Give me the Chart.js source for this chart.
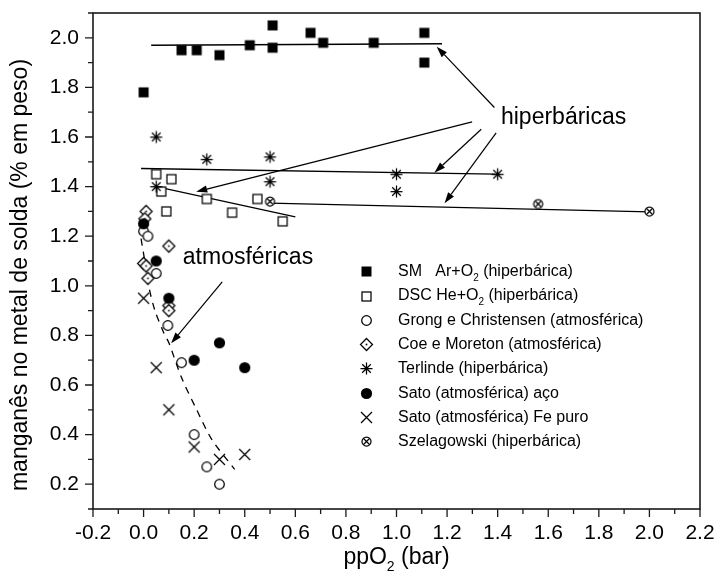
<!DOCTYPE html>
<html>
<head>
<meta charset="utf-8">
<script src="https://cdn.jsdelivr.net/npm/chart.js@4.4.1/dist/chart.umd.min.js"></script>
<style>
  html, body { margin: 0; padding: 0; background: #fff; }
</style>
</head>
<body>
<canvas id="c" width="717" height="577"></canvas>
<script>
const FONT = '"Liberation Sans", Arial, sans-serif';

// axis ranges
const xRange = [-0.2, 2.2];
const yRange = [0.1, 2.1];

// SM Ar+O2 (hiperbárica)
const smX = [0.0, 0.15, 0.21, 0.30, 0.42, 0.51, 0.51, 0.66, 0.71, 0.91, 1.11, 1.11];
const smY = [1.78, 1.95, 1.95, 1.93, 1.97, 2.05, 1.96, 2.02, 1.98, 1.98, 2.02, 1.90];
// DSC He+O2 (hiperbárica)
const dscX = [0.05, 0.11, 0.07, 0.09, 0.25, 0.35, 0.45, 0.55];
const dscY = [1.45, 1.43, 1.38, 1.30, 1.35, 1.295, 1.35, 1.26];
// Grong e Christensen
const grongX = [0.0, 0.017, 0.05, 0.096, 0.15, 0.20, 0.25, 0.30];
const grongY = [1.22, 1.20, 1.05, 0.84, 0.69, 0.40, 0.27, 0.20];
// Coe e Moreton
const coeX = [0.01, 0.005, 0.10, 0.0, 0.01, 0.017, 0.10, 0.10];
const coeY = [1.30, 1.27, 1.16, 1.09, 1.08, 1.03, 0.92, 0.90];
// Terlinde
const terX = [0.05, 0.05, 0.25, 0.50, 0.50, 1.0, 1.0, 1.40];
const terY = [1.60, 1.40, 1.51, 1.52, 1.42, 1.45, 1.38, 1.45];
// Sato aço
const satoAcoX = [0.0, 0.05, 0.10, 0.20, 0.30, 0.40];
const satoAcoY = [1.25, 1.10, 0.95, 0.70, 0.77, 0.67];
// Sato Fe puro
const satoFeX = [0.0, 0.05, 0.10, 0.20, 0.30, 0.40];
const satoFeY = [0.95, 0.67, 0.50, 0.35, 0.30, 0.32];
// Szelagowski
const szeX = [0.50, 1.56, 2.0];
const szeY = [1.34, 1.33, 1.30];

// fitted lines
const smFitX = [0.03, 1.18],  smFitY = [1.970, 1.976];
const terFitX = [-0.01, 1.39], terFitY = [1.473, 1.450];
const dscFitX = [0.05, 0.60], dscFitY = [1.40, 1.278];
const szeFitX = [0.50, 2.0],  szeFitY = [1.333, 1.298];
const atmFitX = [-0.01, 0.0, 0.02, 0.045, 0.08, 0.10, 0.15, 0.21, 0.27, 0.36];
const atmFitY = [1.19, 1.13, 1.00, 0.90, 0.81, 0.77, 0.63, 0.50, 0.38, 0.26];

// annotation arrows [x0, y0, x1, y1] (arrow head at x1,y1)
const arrowsHip = [
  [1.387, 1.719, 1.159, 1.964],
  [1.299, 1.661, 0.208, 1.379],
  [1.335, 1.631, 1.150, 1.456],
  [1.394, 1.617, 1.190, 1.333]
];
const arrowsAtm = [[0.311, 1.016, 0.109, 0.768]];
const notes = [
  {text: 'hiperbáricas', x: 1.413, y: 1.676},
  {text: 'atmosféricas', x: 0.155, y: 1.112}
];

const legendLabels = [
  'SM   Ar+O₂ (hiperbárica)',
  'DSC He+O₂ (hiperbárica)',
  'Grong e Christensen (atmosférica)',
  'Coe e Moreton (atmosférica)',
  'Terlinde (hiperbárica)',
  'Sato (atmosférica) aço',
  'Sato (atmosférica) Fe puro',
  'Szelagowski (hiperbárica)'
];

// marker images
function marker(kind) {
  const c = document.createElement('canvas');
  c.width = c.height = 17;
  const g = c.getContext('2d');
  g.translate(8.5, 8.5);
  g.strokeStyle = '#000';
  g.fillStyle = '#000';
  g.lineWidth = 1.25;
  const line = (x0, y0, x1, y1) => { g.moveTo(x0, y0); g.lineTo(x1, y1); };
  if (kind === 'fsq') {
    g.fillRect(-5, -5, 10, 10);
  } else if (kind === 'osq') {
    g.fillStyle = '#fff';
    g.fillRect(-4.5, -4.5, 9, 9);
    g.strokeRect(-4.5, -4.5, 9, 9);
  } else if (kind === 'ocirc') {
    g.beginPath(); g.arc(0, 0, 4.8, 0, Math.PI * 2);
    g.fillStyle = '#fff'; g.fill(); g.stroke();
  } else if (kind === 'fcirc') {
    g.beginPath(); g.arc(0, 0, 5.6, 0, Math.PI * 2); g.fill();
  } else if (kind === 'diam') {
    g.beginPath();
    g.moveTo(0, -6); g.lineTo(6, 0); g.lineTo(0, 6); g.lineTo(-6, 0); g.closePath();
    g.fillStyle = '#fff'; g.fill(); g.stroke();
    g.fillStyle = '#000'; g.fillRect(-0.8, -0.8, 1.6, 1.6);
  } else if (kind === 'star') {
    g.beginPath();
    line(0, -6, 0, 6); line(-6, 0, 6, 0);
    line(-4.3, -4.3, 4.3, 4.3); line(-4.3, 4.3, 4.3, -4.3);
    g.stroke();
    g.fillRect(-1, -1, 2, 2);
  } else if (kind === 'x') {
    g.beginPath();
    line(-5.5, -5.5, 5.5, 5.5); line(-5.5, 5.5, 5.5, -5.5);
    g.stroke();
  } else if (kind === 'xcirc') {
    g.beginPath(); g.arc(0, 0, 4.5, 0, Math.PI * 2);
    g.fillStyle = '#fff'; g.fill(); g.stroke();
    g.beginPath();
    line(-3.2, -3.2, 3.2, 3.2); line(-3.2, 3.2, 3.2, -3.2);
    g.stroke();
  }
  return c;
}

const pts = (xs, ys) => xs.map((x, i) => ({x, y: ys[i]}));

const markerSets = [
  [smX, smY, 'fsq'],
  [dscX, dscY, 'osq'],
  [grongX, grongY, 'ocirc'],
  [coeX, coeY, 'diam'],
  [terX, terY, 'star'],
  [satoAcoX, satoAcoY, 'fcirc'],
  [satoFeX, satoFeY, 'x'],
  [szeX, szeY, 'xcirc']
];

const datasets = markerSets.map(([xs, ys, kind], i) => ({
  type: 'scatter',
  label: legendLabels[i],
  data: pts(xs, ys),
  pointStyle: marker(kind),
  pointRadius: 6,
  order: 10 - i,
  isMarker: true
}));

const fitLine = (xs, ys, dash) => ({
  type: 'line',
  data: pts(xs, ys),
  borderColor: '#000',
  borderWidth: 1.3,
  borderDash: dash || [],
  pointRadius: 0,
  tension: dash ? 0.3 : 0,
  fill: false,
  order: 50
});

datasets.push(
  fitLine(smFitX, smFitY),
  fitLine(terFitX, terFitY),
  fitLine(dscFitX, dscFitY),
  fitLine(szeFitX, szeFitY),
  fitLine(atmFitX, atmFitY, [7, 6])
);

function richText(ctx, text, x, y, size, align) {
  const parts = text.split('₂');
  const big = size + 'px ' + FONT;
  const small = Math.round(size * 0.62) + 'px ' + FONT;
  let w = 0;
  parts.forEach((p, i) => {
    ctx.font = big; w += ctx.measureText(p).width;
    if (i < parts.length - 1) { ctx.font = small; w += ctx.measureText('2').width; }
  });
  let cx = align === 'center' ? x - w / 2 : x;
  ctx.textAlign = 'left';
  ctx.textBaseline = 'middle';
  parts.forEach((p, i) => {
    ctx.font = big; ctx.fillText(p, cx, y); cx += ctx.measureText(p).width;
    if (i < parts.length - 1) {
      ctx.font = small; ctx.fillText('2', cx, y + size * 0.38); cx += ctx.measureText('2').width;
    }
  });
}

const isMajor = v => Math.abs(Math.round(v * 10)) % 2 === 0;

const decor = {
  id: 'decor',
  beforeDraw(chart) {
    const {ctx, width, height} = chart;
    ctx.save();
    ctx.fillStyle = '#fff';
    ctx.fillRect(0, 0, width, height);
    ctx.restore();
  },
  afterDatasetsDraw(chart) {
    const {ctx, chartArea: a, scales: {x, y}} = chart;
    ctx.save();
    ctx.strokeStyle = '#1a1a1a';
    ctx.fillStyle = '#000';

    // frame
    ctx.lineWidth = 1.6;
    ctx.strokeRect(a.left, a.top, a.right - a.left, a.bottom - a.top);

    // ticks
    ctx.lineWidth = 1.3;
    ctx.beginPath();
    x.ticks.forEach(t => {
      const p = x.getPixelForValue(t.value);
      ctx.moveTo(p, a.bottom); ctx.lineTo(p, a.bottom + (isMajor(t.value) ? 8 : 5));
    });
    y.ticks.forEach(t => {
      const p = y.getPixelForValue(t.value);
      ctx.moveTo(a.left, p); ctx.lineTo(a.left - (isMajor(t.value) ? 8 : 5), p);
    });
    ctx.stroke();

    // arrows
    ctx.lineWidth = 1.2;
    ctx.strokeStyle = '#000';
    arrowsHip.concat(arrowsAtm).forEach(([x0, y0, x1, y1]) => {
      const px0 = x.getPixelForValue(x0), py0 = y.getPixelForValue(y0);
      const px1 = x.getPixelForValue(x1), py1 = y.getPixelForValue(y1);
      const ang = Math.atan2(py1 - py0, px1 - px0);
      const L = 11, W = 3.6;
      const bx = px1 - L * Math.cos(ang), by = py1 - L * Math.sin(ang);
      ctx.beginPath(); ctx.moveTo(px0, py0); ctx.lineTo(bx, by); ctx.stroke();
      ctx.beginPath();
      ctx.moveTo(px1, py1);
      ctx.lineTo(bx + W * Math.sin(ang), by - W * Math.cos(ang));
      ctx.lineTo(bx - W * Math.sin(ang), by + W * Math.cos(ang));
      ctx.closePath(); ctx.fill();
    });

    // notes
    notes.forEach(n => richText(ctx, n.text, x.getPixelForValue(n.x), y.getPixelForValue(n.y), 23, 'left'));

    // legend
    const lx = 366.7, tx = 398, ly = 271.7, step = 24.3;
    chart.data.datasets.filter(d => d.isMarker).forEach((d, i) => {
      const img = d.pointStyle;
      ctx.drawImage(img, Math.round(lx - img.width / 2), Math.round(ly + i * step - img.height / 2));
      richText(ctx, d.label, tx, ly + i * step, 16, 'left');
    });

    // axis titles
    richText(ctx, 'ppO₂ (bar)', (a.left + a.right) / 2, 558, 23, 'center');
    ctx.translate(21, (a.top + a.bottom) / 2 + 14);
    ctx.rotate(-Math.PI / 2);
    richText(ctx, 'manganês no metal de solda (% em peso)', 0, 0, 23, 'center');
    ctx.restore();
  }
};

const tickCb = v => isMajor(v) ? Number(v).toFixed(1) : '';

// keep tick label overhang from shrinking the plot area
const noOverhang = s => {
  s.paddingTop = 0; s.paddingBottom = 0; s.paddingLeft = 0; s.paddingRight = 0;
};

new Chart(document.getElementById('c'), {
  type: 'scatter',
  data: {datasets},
  options: {
    responsive: false,
    animation: false,
    devicePixelRatio: 1,
    layout: {padding: {top: 13, right: 17, left: 0, bottom: 0}},
    plugins: {legend: {display: false}, tooltip: {enabled: false}},
    scales: {
      x: {
        type: 'linear',
        min: xRange[0], max: xRange[1],
        grid: {display: false, drawTicks: false},
        border: {display: false},
        ticks: {
          stepSize: 0.1, maxTicksLimit: 100, autoSkip: false, maxRotation: 0,
          padding: 12, color: '#000',
          font: {family: FONT, size: 21},
          callback: tickCb
        },
        afterFit: s => { s.height = 68; noOverhang(s); }
      },
      y: {
        type: 'linear',
        min: yRange[0], max: yRange[1],
        grid: {display: false, drawTicks: false},
        border: {display: false},
        ticks: {
          stepSize: 0.1, maxTicksLimit: 100, autoSkip: false,
          padding: 14, color: '#000',
          font: {family: FONT, size: 21},
          callback: tickCb
        },
        afterFit: s => { s.width = 93; noOverhang(s); }
      }
    }
  },
  plugins: [decor]
});
</script>
</body>
</html>
